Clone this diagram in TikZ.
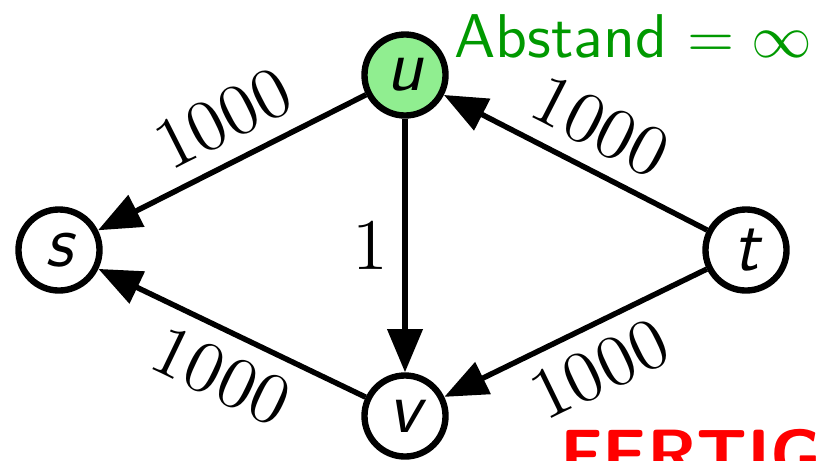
\documentclass[tikz,border=0pt]{standalone}
\usepackage{tikz}
\usetikzlibrary{arrows.meta}

\definecolor{ufill}{HTML}{90EE90}
\colorlet{abstandgruen}{green!60!black}

\begin{document}
\begin{tikzpicture}[x=0.58cm, y=0.58cm,
  vertex/.style={circle, draw, line width=1.05pt, minimum size=0.47cm, inner sep=0pt,
    font=\fontsize{12}{14}\selectfont\sffamily\itshape},
  kante/.style={line width=0.9pt, -{Triangle[length=0.25cm,width=0.2cm]}},
  kanterueck/.style={line width=0.9pt, {Triangle[length=0.25cm,width=0.2cm]}-},
  gewicht/.style={sloped, inner sep=2.6pt, font=\fontsize{12}{14}\selectfont}
]
  \clip (0,0) rectangle (8.37,4.60);

  % Knoten
  \node[vertex, fill=ufill] (u) at (4.05,3.85) {u};
  \node[vertex] (s) at (0.59,2.10) {s};
  \node[vertex] (t) at (7.46,2.10) {t};
  \node[vertex] (v) at (4.05,0.44) {v};

  % Kanten
  \draw[kanterueck] (s) -- node[gewicht, above, pos=0.54] {1000} (u);
  \draw[kanterueck] (u) -- node[gewicht, above, pos=0.52] {1000} (t);
  \draw[kanterueck] (s) -- node[gewicht, below, pos=0.53] {1000} (v);
  \draw[kanterueck] (v) -- node[gewicht, below, pos=0.52] {1000} (t);
  \draw[kante] (u) -- node[left, inner sep=2.3pt, font=\fontsize{12}{14}\selectfont] {1} (v);

  % Beschriftung
  \node[anchor=base west, inner sep=0pt, text=abstandgruen,
    font=\fontsize{10.2}{12}\selectfont\sffamily] (abstand) at (4.53,4.03) {Abstand $=\infty$};
  \node[anchor=base west, inner sep=0pt, text=red,
    font=\fontsize{11.5}{13}\selectfont\sffamily\bfseries] (fertig) at (5.59,-0.18) {FERTIG};
\end{tikzpicture}
\end{document}
